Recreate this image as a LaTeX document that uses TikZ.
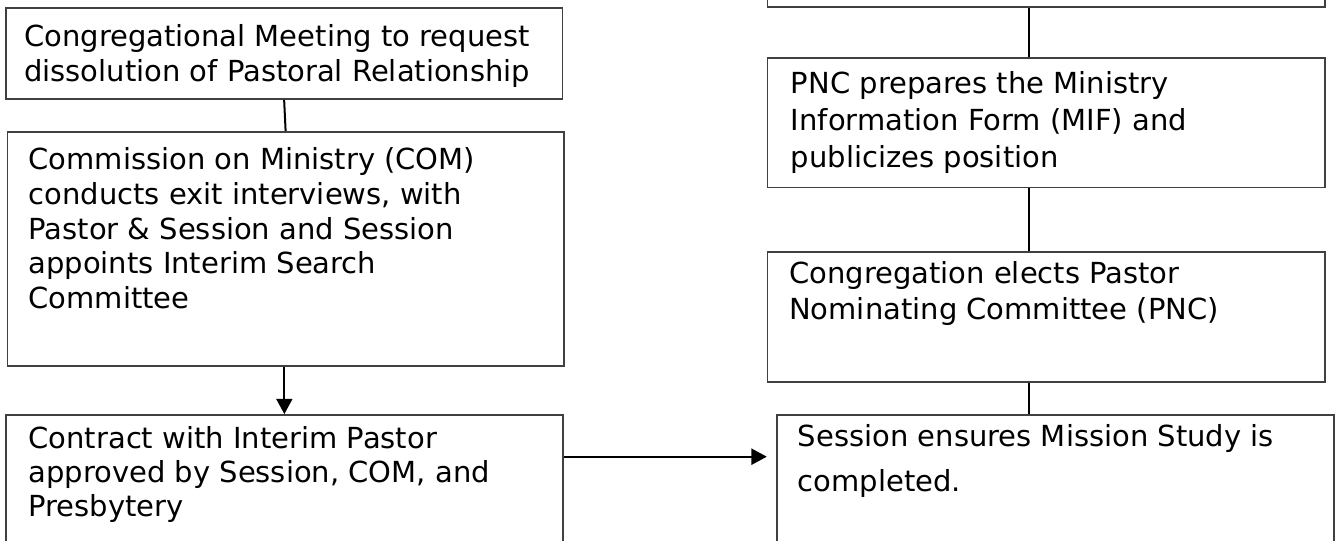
\documentclass[tikz,border=0pt]{standalone}
\usepackage{fontspec}
\setmainfont{DejaVu Sans}
\usetikzlibrary{arrows.meta}
\tikzset{
  box/.style={draw=black!75, line width=1.3pt, inner sep=0pt},
  txt/.style={anchor=base west, inner sep=0pt},
  conn/.style={draw=black, line width=1.5pt},
  arr/.style={conn, -{Triangle[length=11.5pt,width=12pt]}},
}
\newcommand{\mkbox}[5]{\node[box, minimum width={(#4-#2)*0.75pt}, minimum height={(#5-#3)*0.75pt}] (#1) at ({(#2+#4)/2},{(#3+#5)/2}) {};}
\newcommand{\lines}[2]{\parbox[t]{560pt}{\fontsize{21.75pt}{#1}\selectfont\raggedright #2}}
\begin{document}
\begin{tikzpicture}[x=0.75pt,y=-0.75pt]
\useasboundingbox (0,0) rectangle (1336,541);
\clip (0,0) rectangle (1336,541);
\fill[white] (0,0) rectangle (1336,541);
% boxes
\mkbox{A}{5.7}{8.3}{562.6}{99.3}
\mkbox{B}{7.5}{131.7}{563.7}{365.7}
\mkbox{C}{5.7}{415}{563}{580}
\mkbox{G}{767.5}{-60}{1325}{7.3}
\mkbox{F}{767.5}{58}{1325}{187.5}
\mkbox{E}{767.5}{252}{1325}{381.7}
\mkbox{D}{777}{415}{1334}{580}
% texts
\node[txt] (tA) at (24,46.7) {\lines{26.25pt}{Congregational Meeting to request\\dissolution of Pastoral Relationship}};
\node[txt] (tB) at (28.3,170) {\lines{26pt}{Commission on Ministry (COM)\\conducts exit interviews, with\\Pastor \& Session and Session\\appoints Interim Search\\Committee}};
\node[txt] (tC) at (28.3,448.3) {\lines{25.75pt}{Contract with Interim Pastor\\approved by Session, COM, and\\Presbytery}};
\node[txt] (tF) at (790.7,93.3) {\lines{28pt}{PNC prepares the Ministry\\Information Form (MIF) and\\publicizes position}};
\node[txt] (tE) at (789,283.3) {\lines{27.5pt}{Congregation elects Pastor\\Nominating Committee (PNC)}};
\node[txt] (tD) at (797.7,446.7) {\lines{33.75pt}{Session ensures Mission Study is\\completed.}};
% connectors
\coordinate (vx) at (1029.3,0);
\coordinate (hy) at (0,456.7);
\draw[conn] (A.south) -- (B.north);
\draw[arr] (C.north |- B.south) -- (C.north);
\draw[arr, shorten >=7pt] (C.east |- hy) -- (D.west |- hy);
\draw[conn] (G.south -| vx) -- (F.north -| vx);
\draw[conn] (F.south -| vx) -- (E.north -| vx);
\draw[conn] (E.south -| vx) -- (D.north -| vx);
\end{tikzpicture}
\end{document}
